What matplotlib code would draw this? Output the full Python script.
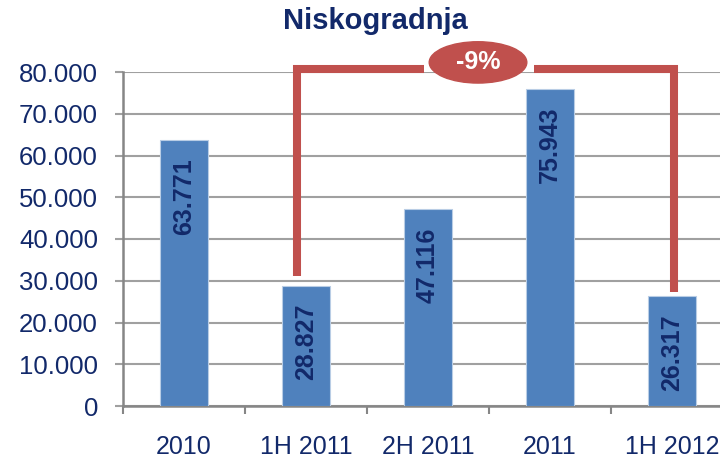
import numpy as np
import matplotlib
matplotlib.use('Agg')
import matplotlib.pyplot as plt
from matplotlib.patches import Ellipse

categories = ['2010', '1H 2011', '2H 2011', '2011', '1H 2012']
values = [63771, 28827, 47116, 75943, 26317]
value_labels = ['63.771', '28.827', '47.116', '75.943', '26.317']
yticks = np.arange(0, 80001, 10000)
ytick_labels = ['0'] + ['%d.000' % (v // 1000) for v in yticks[1:]]
change_label = '-9%'

navy = '#12296A'
red = '#C0504D'
plt.rcParams['font.family'] = ['Liberation Sans', 'DejaVu Sans']

fig = plt.figure(figsize=(7.2, 4.57), dpi=100)
ax = fig.add_axes([123/720, 51/457, 610/720, 334/457])
x = np.arange(len(categories))
ax.bar(x, values, width=0.4, color='#4F81BD', edgecolor='#B9CDE5', linewidth=0.8, zorder=3)

for xi, v, lab in zip(x, values, value_labels):
    ax.annotate(lab, (xi, v), xytext=(0, -13), textcoords='offset points', rotation=90,
                ha='center', va='top', fontsize=18, fontweight='bold', color=navy, zorder=4)

ax.set_xlim(-0.5, 4.5)
ax.set_ylim(0, 80000)
ax.set_yticks(yticks)
ax.set_yticklabels(ytick_labels)
ax.set_xticks(x)
ax.set_xticklabels(categories)
ax.set_xticks(np.arange(-0.5, 5, 1), minor=True)
ax.tick_params(axis='x', which='major', length=0, pad=21, labelsize=18, labelcolor=navy)
ax.tick_params(axis='x', which='minor', length=5.5, width=1.5, color='#868686', direction='out')
ax.tick_params(axis='y', length=6, width=1.5, color='#A0A0A0', pad=12, labelsize=18.5, labelcolor=navy)
ax.grid(axis='y', color='#A0A0A0', linewidth=1.5, zorder=0)
for s in ['top', 'right']:
    ax.spines[s].set_visible(False)
for s in ['left', 'bottom']:
    ax.spines[s].set_color('#868686')
    ax.spines[s].set_linewidth(1.8)

# bracket comparing 1H 2011 with 1H 2012
lx, rx = 0.93, 4.02
top = 80600
lw = 5.8
ax.plot([lx, lx, 1.97], [31100, top, top], color=red, linewidth=lw, clip_on=False,
        solid_joinstyle='miter', solid_capstyle='butt', zorder=5)
ax.plot([2.87, rx, rx], [top, top, 27300], color=red, linewidth=lw, clip_on=False,
        solid_joinstyle='miter', solid_capstyle='butt', zorder=5)
ax.add_patch(Ellipse((2.41, 82300), 0.80, 9900, color=red, clip_on=False, zorder=6))
ax.text(2.41, 82300, change_label, ha='center', va='center', fontsize=18,
        fontweight='bold', color='white', zorder=7)

fig.text(375/720, 1 - 21/457, 'Niskogradnja', ha='center', va='center', fontsize=21,
         fontweight='bold', color=navy)

fig.savefig('out.png', dpi=100)
